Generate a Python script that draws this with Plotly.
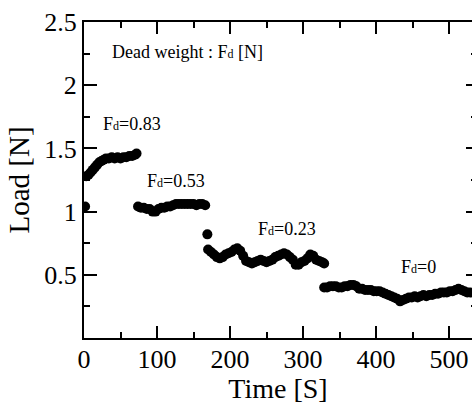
import plotly.graph_objects as go

# ---- data ----
t_start = [1.5]
load_start = [1.04]

t_fd083 = [3, 6, 9, 12, 15, 18, 21, 24, 27, 30, 34, 38, 42, 46, 50, 54, 58, 62, 66, 70, 72]
load_fd083 = [1.28, 1.29, 1.31, 1.33, 1.35, 1.37, 1.39, 1.40, 1.41, 1.42, 1.42, 1.43, 1.42,
              1.43, 1.42, 1.43, 1.43, 1.44, 1.44, 1.45, 1.46]

t_fd053 = [74, 78, 82, 86, 90, 94, 98, 102, 106, 110, 114, 118, 122, 126, 130, 134, 138,
           142, 146, 150, 154, 158, 162, 166]
load_fd053 = [1.04, 1.03, 1.03, 1.02, 1.02, 1.00, 1.00, 1.02, 1.03, 1.03, 1.04, 1.04, 1.05,
              1.06, 1.06, 1.06, 1.06, 1.06, 1.06, 1.06, 1.05, 1.06, 1.06, 1.05]

t_jump = [169]
load_jump = [0.82]

t_fd023 = [170, 174, 178, 182, 186, 190, 194, 198, 202, 206, 210, 214, 218, 222, 226, 230,
           234, 238, 242, 246, 250, 254, 258, 262, 266, 270, 274, 278, 282, 286, 290, 294,
           298, 302, 306, 310, 314, 318, 322, 326, 329]
load_fd023 = [0.70, 0.68, 0.66, 0.64, 0.63, 0.64, 0.66, 0.67, 0.68, 0.70, 0.71, 0.69, 0.65,
              0.61, 0.60, 0.59, 0.60, 0.61, 0.62, 0.61, 0.60, 0.61, 0.62, 0.64, 0.65, 0.66,
              0.67, 0.66, 0.64, 0.62, 0.58, 0.58, 0.60, 0.61, 0.63, 0.66, 0.65, 0.62, 0.61,
              0.60, 0.59]

t_fd0 = [329, 333, 337, 341, 345, 349, 353, 357, 361, 365, 369, 373, 377, 381, 385, 389,
         393, 397, 401, 405, 409, 413, 417, 421, 425, 429, 433, 437, 441, 445, 449, 453,
         457, 461, 465, 469, 473, 477, 481, 485, 489, 493, 497, 501, 505, 509, 513, 517,
         521, 525, 529]
load_fd0 = [0.40, 0.40, 0.41, 0.41, 0.41, 0.40, 0.40, 0.41, 0.41, 0.42, 0.42, 0.41, 0.39,
            0.39, 0.38, 0.38, 0.38, 0.37, 0.37, 0.37, 0.36, 0.35, 0.34, 0.33, 0.32, 0.31,
            0.29, 0.30, 0.31, 0.32, 0.32, 0.33, 0.32, 0.33, 0.34, 0.33, 0.34, 0.34, 0.35,
            0.35, 0.36, 0.36, 0.36, 0.37, 0.37, 0.38, 0.39, 0.38, 0.37, 0.36, 0.36]

time_all = t_start + t_fd083 + t_fd053 + t_jump + t_fd023 + t_fd0
load_all = load_start + load_fd083 + load_fd053 + load_jump + load_fd023 + load_fd0

y_tickvals = [0, 0.5, 1, 1.5, 2, 2.5]
y_ticktext = ["", "0.5", "1", "1.5", "2", "2.5"]
x_tickvals = [0, 100, 200, 300, 400, 500]

SUB_D = '<span style="font-size:12px">d</span>'
labels = [
    ("Dead weight : F" + SUB_D + " [N]", 35, 2.26, "left"),
    ("F" + SUB_D + "=0.83", 66, 1.69, "center"),
    ("F" + SUB_D + "=0.53", 126, 1.24, "center"),
    ("F" + SUB_D + "=0.23", 278, 0.86, "center"),
    ("F" + SUB_D + "=0", 458, 0.56, "center"),
]

FONT = "'Liberation Serif', 'DejaVu Serif', serif"

fig = go.Figure()
fig.add_trace(go.Scatter(
    x=time_all, y=load_all, mode="markers",
    marker=dict(color="black", size=10, line=dict(width=0)),
    showlegend=False, hoverinfo="skip"))

for text, xx, yy, anc in labels:
    fig.add_annotation(x=xx, y=yy, text=text, showarrow=False, xanchor=anc,
                       yanchor="middle", font=dict(family=FONT, size=18, color="black"))

axis_common = dict(showgrid=False, zeroline=False, linecolor="black", linewidth=2,
                   tickcolor="black", tickwidth=2, ticks="inside",
                   tickfont=dict(family=FONT, size=26, color="black"))

fig.update_layout(
    width=472, height=404,
    margin=dict(l=84, r=0, t=22, b=66),
    paper_bgcolor="white", plot_bgcolor="white",
    font=dict(family=FONT, color="black"),
    xaxis=dict(range=[0, 531.5], tickmode="array", tickvals=x_tickvals,
               ticklen=12, showline=True, mirror="ticks", ticklabelstandoff=-3,
               minor=dict(dtick=50, ticklen=6, tickwidth=2, tickcolor="black", ticks="inside"),
               title=dict(text="Time [S]", font=dict(family=FONT, size=28, color="black"),
                          standoff=2),
               **axis_common),
    yaxis=dict(range=[0, 2.5], tickmode="array", tickvals=y_tickvals, ticktext=y_ticktext,
               ticklen=13, showline=True, mirror=False,
               minor=dict(dtick=0.25, ticklen=6, tickwidth=2, tickcolor="black", ticks="inside"),
               title=dict(text="Load [N]", font=dict(family=FONT, size=29, color="black"),
                          standoff=6),
               **axis_common),
    yaxis2=dict(range=[0, 2.5], overlaying="y", side="right", anchor="x",
                showgrid=False, zeroline=False, showline=False, showticklabels=False,
                tickmode="array", tickvals=y_tickvals, ticks="inside", ticklen=6,
                tickwidth=2, tickcolor="black",
                minor=dict(dtick=0.25, ticklen=1, tickwidth=2, tickcolor="black", ticks="inside")),
)
fig.add_trace(go.Scatter(x=[None], y=[None], yaxis="y2", mode="markers",
                         showlegend=False, hoverinfo="skip"))

fig.write_html("out.html")
